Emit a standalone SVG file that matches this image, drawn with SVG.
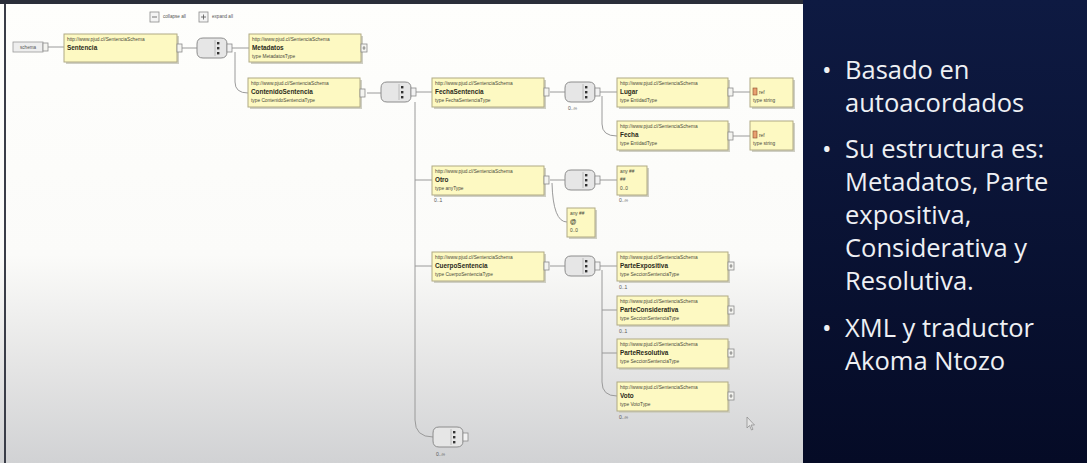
<svg xmlns="http://www.w3.org/2000/svg" width="1087" height="463" viewBox="0 0 1087 463">
  <defs>
    <linearGradient id="canvasBg" x1="0" y1="0" x2="0" y2="1">
      <stop offset="0" stop-color="#fefefc"/>
      <stop offset="0.55" stop-color="#fbfbf9"/>
      <stop offset="0.8" stop-color="#e4e4e4"/>
      <stop offset="1" stop-color="#d1d2d4"/>
    </linearGradient>
    <linearGradient id="panelBg" x1="0" y1="0" x2="0" y2="1">
      <stop offset="0" stop-color="#0e1a42"/>
      <stop offset="1" stop-color="#050b26"/>
    </linearGradient>
    <!-- sequence compositor: rounded body, three dots, port on the right -->
    <g id="seq">
      <path d="M6,0 H24 Q30,0 30,6 V14 Q30,20 24,20 H6 Q0,20 0,14 V6 Q0,0 6,0 Z" fill="#e6e6e6" stroke="#8c8c8c" stroke-width="1"/>
      <line x1="18" y1="2" x2="18" y2="18" stroke="#b0b0b0" stroke-width="0.8"/>
      <rect x="20" y="4" width="2.4" height="2.4" fill="#333"/>
      <rect x="20" y="9" width="2.4" height="2.4" fill="#333"/>
      <rect x="20" y="14" width="2.4" height="2.4" fill="#333"/>
      <rect x="30" y="6" width="5" height="8" fill="#f2f2f2" stroke="#8c8c8c" stroke-width="0.8"/>
    </g>
    <!-- small expand port on the right of an element box -->
    <g id="port">
      <rect x="0" y="-4" width="5" height="8" fill="#f4f4f0" stroke="#8c8c8c" stroke-width="0.8"/>
    </g>
    <g id="portPlus">
      <rect x="0" y="-4" width="6" height="8" fill="#f4f4f0" stroke="#8c8c8c" stroke-width="0.8"/>
      <line x1="1.5" y1="0" x2="4.5" y2="0" stroke="#666" stroke-width="0.7"/>
      <line x1="3" y1="-2" x2="3" y2="2" stroke="#666" stroke-width="0.7"/>
    </g>
  </defs>
  <style>
    .box { fill: #fdf9c2; stroke: #b0aa84; stroke-width: 1; }
    .shadow { fill: #cfcfc4; }
    .edge { fill: none; stroke: #9a9a9a; stroke-width: 1; }
    .ns { font-family: "Liberation Sans", Arial, sans-serif; font-size: 4.8px; fill: #4a4a3a; }
    .nm { font-family: "Liberation Sans", Arial, sans-serif; font-size: 6.4px; font-weight: bold; fill: #2a2a1a; }
    .ty { font-family: "Liberation Sans", Arial, sans-serif; font-size: 4.8px; fill: #4a4a3a; }
    .occ { font-family: "Liberation Sans", Arial, sans-serif; font-size: 5px; fill: #555; }
    .ui { font-family: "Liberation Sans", Arial, sans-serif; font-size: 4.6px; fill: #555; }
    .bullet { font-family: "Open Sans", "Noto Sans", sans-serif; font-size: 25.5px; fill: #eef0f4; }
  </style>

  <!-- canvas of the schema editor -->
  <rect x="0" y="0" width="803" height="463" fill="url(#canvasBg)"/>
  <rect x="0" y="0" width="803" height="4" fill="#2a2e3a"/>
  <rect x="4" y="4" width="2" height="459" fill="#3a3d48"/>

  <!-- right text panel -->
  <rect x="803" y="0" width="284" height="463" fill="url(#panelBg)"/>
  <g id="panel-text" class="bullet">
    <text x="822" y="79">•</text><text x="845" y="79">Basado en</text>
    <text x="845" y="112">autoacordados</text>
    <text x="822" y="158">•</text><text x="845" y="158">Su estructura es:</text>
    <text x="845" y="191">Metadatos, Parte</text>
    <text x="845" y="224">expositiva,</text>
    <text x="845" y="257">Considerativa y</text>
    <text x="845" y="290">Resolutiva.</text>
    <text x="822" y="337">•</text><text x="845" y="337">XML y traductor</text>
    <text x="845" y="370">Akoma Ntozo</text>
  </g>

  <!-- toolbar -->
  <g id="toolbar">
    <rect x="150" y="12" width="9" height="10" fill="#f4f4f4" stroke="#8c8c8c" stroke-width="0.8"/>
    <line x1="152" y1="17" x2="157" y2="17" stroke="#555" stroke-width="0.8"/>
    <text class="ui" x="163" y="18">collapse all</text>
    <rect x="199" y="12" width="9" height="10" fill="#f4f4f4" stroke="#8c8c8c" stroke-width="0.8"/>
    <line x1="201" y1="17" x2="206" y2="17" stroke="#555" stroke-width="0.8"/>
    <line x1="203.5" y1="14.5" x2="203.5" y2="19.5" stroke="#555" stroke-width="0.8"/>
    <text class="ui" x="212" y="18">expand all</text>
  </g>

  <!-- connectors -->
  <g id="connectors" class="edge">
    <line x1="48" y1="47" x2="64" y2="47"/>
    <line x1="182" y1="48" x2="197" y2="48"/>
    <line x1="232" y1="48" x2="249" y2="48"/>
    <path d="M235,52 V82 Q235,93 248,93"/>
    <line x1="367" y1="93" x2="381" y2="93"/>
    <line x1="416" y1="92" x2="432" y2="92"/>
    <path d="M415,102 V420 Q415,437 433,437"/>
    <line x1="415" y1="180" x2="432" y2="180"/>
    <line x1="415" y1="266" x2="432" y2="266"/>
    <line x1="550" y1="92" x2="565" y2="92"/>
    <line x1="600" y1="92" x2="617" y2="92"/>
    <path d="M602,96 V124 Q602,136 617,136"/>
    <line x1="733" y1="92" x2="750" y2="92"/>
    <line x1="733" y1="136" x2="750" y2="136"/>
    <line x1="550" y1="180" x2="565" y2="180"/>
    <line x1="600" y1="180" x2="617" y2="180"/>
    <path d="M552,183 Q553,222 567,222"/>
    <line x1="550" y1="266" x2="565" y2="266"/>
    <line x1="600" y1="266" x2="617" y2="266"/>
    <path d="M602,270 V382 Q602,396 617,396"/>
    <line x1="602" y1="310" x2="617" y2="310"/>
    <line x1="602" y1="353" x2="617" y2="353"/>
  </g>

  <!-- schema root -->
  <g id="node-schema">
    <rect x="13" y="42" width="30" height="10" fill="#eeeeee" stroke="#9a9a9a" stroke-width="0.8"/>
    <text class="ui" x="20" y="48.8">schema</text>
    <use href="#port" x="43" y="47"/>
  </g>

  <g id="node-sentencia">
    <rect class="shadow" x="66" y="36" width="113" height="28"/>
    <rect class="box" x="64" y="34" width="113" height="28"/>
    <text class="ns" x="67" y="41">http://www.pjud.cl/SentenciaSchema</text>
    <text class="nm" x="67" y="50">Sentencia</text>
    <use href="#port" x="177" y="48"/>
  </g>

  <g id="seq-1"><use href="#seq" x="197" y="38"/></g>

  <g id="node-metadatos">
    <rect class="shadow" x="251" y="36" width="112" height="28"/>
    <rect class="box" x="249" y="34" width="112" height="28"/>
    <text class="ns" x="252" y="41">http://www.pjud.cl/SentenciaSchema</text>
    <text class="nm" x="252" y="50">Metadatos</text>
    <text class="ty" x="252" y="58">type MetadatosType</text>
    <use href="#portPlus" x="361" y="48"/>
  </g>

  <g id="node-contenido">
    <rect class="shadow" x="250" y="80" width="112" height="29"/>
    <rect class="box" x="248" y="78" width="112" height="29"/>
    <text class="ns" x="251" y="85">http://www.pjud.cl/SentenciaSchema</text>
    <text class="nm" x="251" y="94">ContenidoSentencia</text>
    <text class="ty" x="251" y="102">type ContenidoSentenciaType</text>
    <use href="#port" x="360" y="93"/>
  </g>

  <g id="seq-2"><use href="#seq" x="381" y="82"/></g>

  <g id="node-fecha-sentencia">
    <rect class="shadow" x="434" y="80" width="112" height="29"/>
    <rect class="box" x="432" y="78" width="112" height="29"/>
    <text class="ns" x="435" y="85">http://www.pjud.cl/SentenciaSchema</text>
    <text class="nm" x="435" y="94">FechaSentencia</text>
    <text class="ty" x="435" y="102">type FechaSentenciaType</text>
    <use href="#port" x="544" y="92"/>
  </g>

  <g id="seq-3">
    <use href="#seq" x="565" y="82"/>
    <text class="occ" x="568" y="110">0..∞</text>
  </g>

  <g id="node-lugar">
    <rect class="shadow" x="619" y="80" width="111" height="29"/>
    <rect class="box" x="617" y="78" width="111" height="29"/>
    <text class="ns" x="620" y="85">http://www.pjud.cl/SentenciaSchema</text>
    <text class="nm" x="620" y="94">Lugar</text>
    <text class="ty" x="620" y="102">type EntidadType</text>
    <use href="#port" x="728" y="92"/>
  </g>

  <g id="node-lugar-ref">
    <rect class="shadow" x="752" y="80" width="43" height="29"/>
    <rect class="box" x="750" y="78" width="43" height="29"/>
    <rect x="753" y="88" width="4" height="7" fill="#e8a070" stroke="#8a4a2a" stroke-width="0.6"/>
    <text class="ns" x="759" y="94">ref</text>
    <text class="ty" x="753" y="102">type string</text>
  </g>

  <g id="node-fecha">
    <rect class="shadow" x="619" y="123" width="111" height="29"/>
    <rect class="box" x="617" y="121" width="111" height="29"/>
    <text class="ns" x="620" y="128">http://www.pjud.cl/SentenciaSchema</text>
    <text class="nm" x="620" y="137">Fecha</text>
    <text class="ty" x="620" y="145">type EntidadType</text>
    <use href="#port" x="728" y="136"/>
  </g>

  <g id="node-fecha-ref">
    <rect class="shadow" x="752" y="123" width="43" height="29"/>
    <rect class="box" x="750" y="121" width="43" height="29"/>
    <rect x="753" y="131" width="4" height="7" fill="#e8a070" stroke="#8a4a2a" stroke-width="0.6"/>
    <text class="ns" x="759" y="137">ref</text>
    <text class="ty" x="753" y="145">type string</text>
  </g>

  <g id="node-otro">
    <rect class="shadow" x="434" y="168" width="112" height="29"/>
    <rect class="box" x="432" y="166" width="112" height="29"/>
    <text class="ns" x="435" y="173">http://www.pjud.cl/SentenciaSchema</text>
    <text class="nm" x="435" y="182">Otro</text>
    <text class="ty" x="435" y="190">type anyType</text>
    <use href="#port" x="544" y="180"/>
    <text class="occ" x="434" y="202">0..1</text>
  </g>

  <g id="seq-4"><use href="#seq" x="565" y="170"/></g>

  <g id="node-any-element">
    <rect class="shadow" x="619" y="168" width="30" height="29"/>
    <rect class="box" x="617" y="166" width="30" height="29"/>
    <text class="ns" x="620" y="173">any ##</text>
    <text class="ns" x="620" y="181">##</text>
    <text class="ns" x="620" y="190">0..0</text>
    <text class="occ" x="619" y="202">0..∞</text>
  </g>

  <g id="node-any-attribute">
    <rect class="shadow" x="569" y="210" width="28" height="29"/>
    <rect class="box" x="567" y="208" width="28" height="29"/>
    <text class="ns" x="570" y="215">any ##</text>
    <text class="nm" x="570" y="224">@</text>
    <text class="ns" x="570" y="232">0..0</text>
  </g>

  <g id="node-cuerpo">
    <rect class="shadow" x="434" y="254" width="112" height="29"/>
    <rect class="box" x="432" y="252" width="112" height="29"/>
    <text class="ns" x="435" y="259">http://www.pjud.cl/SentenciaSchema</text>
    <text class="nm" x="435" y="268">CuerpoSentencia</text>
    <text class="ty" x="435" y="276">type CuerpoSentenciaType</text>
    <use href="#port" x="544" y="266"/>
  </g>

  <g id="seq-5"><use href="#seq" x="565" y="256"/></g>

  <g id="node-parte-expositiva">
    <rect class="shadow" x="619" y="254" width="111" height="29"/>
    <rect class="box" x="617" y="252" width="111" height="29"/>
    <text class="ns" x="620" y="259">http://www.pjud.cl/SentenciaSchema</text>
    <text class="nm" x="620" y="268">ParteExpositiva</text>
    <text class="ty" x="620" y="276">type SeccionSentenciaType</text>
    <use href="#portPlus" x="728" y="266"/>
    <text class="occ" x="619" y="289">0..1</text>
  </g>

  <g id="node-parte-considerativa">
    <rect class="shadow" x="619" y="298" width="111" height="29"/>
    <rect class="box" x="617" y="296" width="111" height="29"/>
    <text class="ns" x="620" y="303">http://www.pjud.cl/SentenciaSchema</text>
    <text class="nm" x="620" y="312">ParteConsiderativa</text>
    <text class="ty" x="620" y="320">type SeccionSentenciaType</text>
    <use href="#portPlus" x="728" y="310"/>
    <text class="occ" x="619" y="333">0..1</text>
  </g>

  <g id="node-parte-resolutiva">
    <rect class="shadow" x="619" y="341" width="111" height="29"/>
    <rect class="box" x="617" y="339" width="111" height="29"/>
    <text class="ns" x="620" y="346">http://www.pjud.cl/SentenciaSchema</text>
    <text class="nm" x="620" y="355">ParteResolutiva</text>
    <text class="ty" x="620" y="363">type SeccionSentenciaType</text>
    <use href="#portPlus" x="728" y="353"/>
  </g>

  <g id="node-voto">
    <rect class="shadow" x="619" y="384" width="111" height="29"/>
    <rect class="box" x="617" y="382" width="111" height="29"/>
    <text class="ns" x="620" y="389">http://www.pjud.cl/SentenciaSchema</text>
    <text class="nm" x="620" y="398">Voto</text>
    <text class="ty" x="620" y="406">type VotoType</text>
    <use href="#portPlus" x="728" y="396"/>
    <text class="occ" x="619" y="419">0..∞</text>
  </g>

  <g id="seq-6">
    <use href="#seq" x="433" y="427"/>
    <text class="occ" x="436" y="456">0..∞</text>
  </g>

  <!-- mouse pointer -->
  <path d="M747,417 L747,428 L749.5,425.5 L751.5,430 L753,429.3 L751,425 L754.5,425 Z" fill="#e4e4e4" stroke="#888" stroke-width="0.7"/>
</svg>
